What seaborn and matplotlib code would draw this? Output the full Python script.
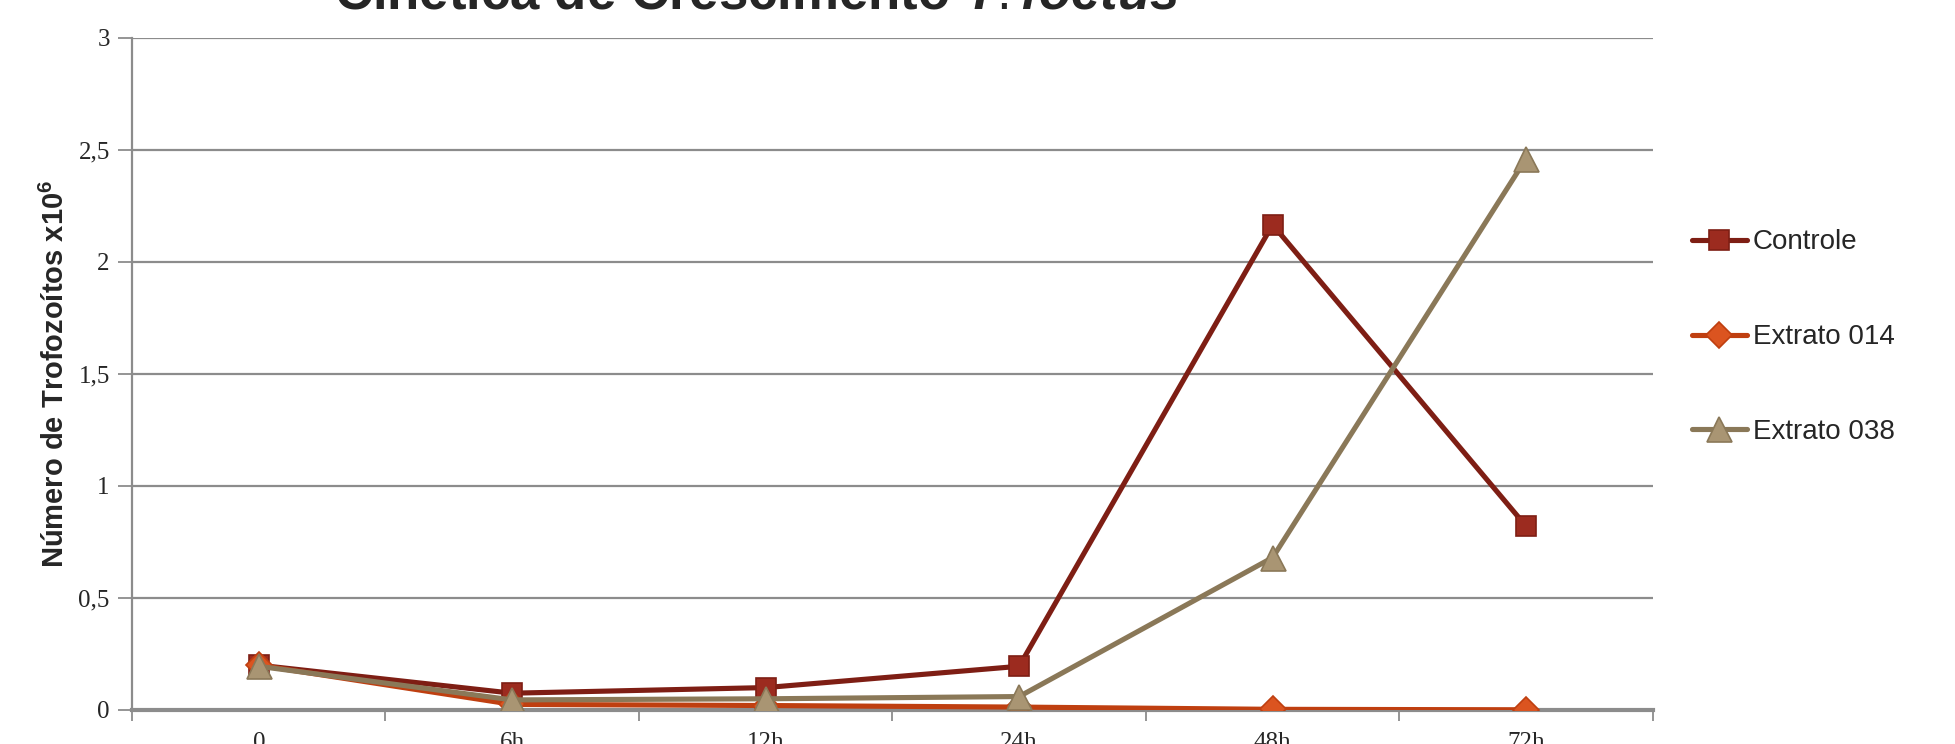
import matplotlib
matplotlib.use("Agg")
import matplotlib.pyplot as plt
import seaborn as sns
import pandas as pd

# Growth kinetics data (trophozoites x10^6)
time_labels = ["0", "6h", "12h", "24h", "48h", "72h"]
controle = [0.20, 0.075, 0.10, 0.195, 2.165, 0.82]
extrato_014 = [0.20, 0.025, 0.02, 0.013, 0.003, 0.001]
extrato_038 = [0.195, 0.045, 0.05, 0.06, 0.68, 2.46]
y_ticks = [0, 0.5, 1, 1.5, 2, 2.5, 3]
y_tick_labels = ["0", "0,5", "1", "1,5", "2", "2,5", "3"]

series = [
    ("Controle", controle, "#7E1E14", "#9C2B1F", "#7E1E14", "s", 15),
    ("Extrato 014", extrato_014, "#BF3F10", "#DB5420", "#BF3F10", "D", 13),
    ("Extrato 038", extrato_038, "#8A7858", "#A99573", "#8A7858", "^", 18),
]

sns.set_theme(style="white")
plt.rcParams["font.family"] = ["Liberation Sans", "DejaVu Sans"]
plt.rcParams["mathtext.fontset"] = "custom"
plt.rcParams["mathtext.rm"] = "Liberation Sans"
plt.rcParams["mathtext.bf"] = "Liberation Sans:bold"
plt.rcParams["mathtext.it"] = "Liberation Sans:bold:italic"

fig = plt.figure(figsize=(19.56, 7.44), dpi=100)
ax = fig.add_axes([0.0675, 0.0457, 0.7775, 0.9038])

grid_color = "#8C8C8C"
for yv in y_ticks[1:]:
    ax.axhline(yv, color=grid_color, lw=1.6, zorder=0)

for name, vals, lc, mfc, mec, mk, ms in series:
    df = pd.DataFrame({"t": range(len(time_labels)), "v": vals})
    sns.lineplot(data=df, x="t", y="v", ax=ax, color=lc, lw=3.7,
                 marker=mk, markersize=ms, markerfacecolor=mfc,
                 markeredgecolor=mec, markeredgewidth=1.2, label=name,
                 zorder=3)

ax.set_xlim(-0.5, 5.5)
ax.set_ylim(0, 3)
ax.set_xticks([i - 0.5 for i in range(len(time_labels) + 1)])
ax.set_xticklabels([])
ax.set_xticks(range(len(time_labels)), minor=True)
ax.set_xticklabels(time_labels, minor=True, fontfamily="Liberation Serif",
                   fontsize=18)
ax.tick_params(axis="x", which="major", direction="out", length=8,
               width=1.3, color=grid_color, bottom=True)
ax.tick_params(axis="x", which="minor", length=0, pad=16, bottom=True)

ax.set_yticks(y_ticks)
ax.set_yticklabels(y_tick_labels, fontfamily="Liberation Serif", fontsize=18)
ax.tick_params(axis="y", direction="out", length=10, width=1.3,
               color=grid_color, left=True, pad=6)

ax.set_xlabel("")
ax.set_ylabel("")
fig.text(0.0285, 0.497, "Número de Trofozoítos x10$^{\\mathbf{6}}$",
         rotation=90, ha="center", va="center", fontsize=21,
         fontweight="bold")

for s in ["top", "right"]:
    ax.spines[s].set_visible(False)
ax.spines["left"].set_color(grid_color)
ax.spines["left"].set_linewidth(1.6)
ax.spines["bottom"].set_color(grid_color)
ax.spines["bottom"].set_linewidth(3)

leg = ax.legend(loc="upper left", bbox_to_anchor=(1.009, 0.752),
                frameon=False, fontsize=20, labelspacing=2.48,
                handlelength=2.0, handletextpad=0.2)

fig.text(0.387, 0.988, "Cinética de Crescimento $\\it{T. foetus}$",
         ha="center", va="baseline", fontsize=38, fontweight="bold")

fig.savefig("out.png", dpi=100)
